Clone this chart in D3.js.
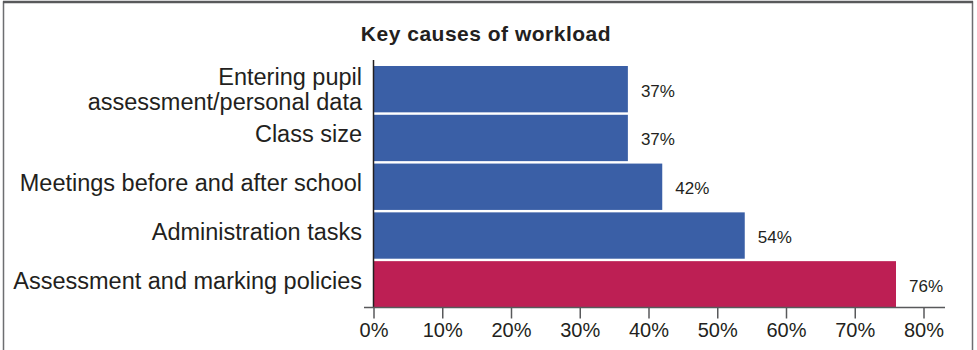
<!DOCTYPE html>
<html>
<head>
<meta charset="utf-8">
<script src="https://cdn.jsdelivr.net/npm/d3@7"></script>
<style>
  body { margin: 0; background: #fff; }
  text { font-family: "Liberation Sans", Arial, sans-serif; fill: #231f20; }
</style>
</head>
<body>
<div id="chart"></div>
<script>
// data
var categories = [
  ["Entering pupil", "assessment/personal data"],
  ["Class size"],
  ["Meetings before and after school"],
  ["Administration tasks"],
  ["Assessment and marking policies"]
];
var values = [37, 37, 42, 54, 76];
var highlighted = [false, false, false, false, true];
var ticks = [0, 10, 20, 30, 40, 50, 60, 70, 80];

var width = 977, height = 350;
var svg = d3.select('#chart').append('svg')
  .attr('width', width)
  .attr('height', height);

// frame
svg.append('path')
  .attr('d', 'M3.5,350 V2 H972.5 V350')
  .attr('fill', 'none')
  .attr('stroke', '#6d6e71')
  .attr('stroke-width', 1.5);
svg.append('line')
  .attr('x1', 3).attr('x2', 973).attr('y1', 2).attr('y2', 2)
  .attr('stroke', '#58595b').attr('stroke-width', 2.5);

svg.append('text')
  .attr('x', 486).attr('y', 41)
  .attr('text-anchor', 'middle')
  .style('font-size', '21px')
  .style('font-weight', 'bold')
  .style('letter-spacing', '0.5px')
  .text('Key causes of workload');

var x = d3.scaleLinear().domain([0, 80]).range([373.5, 923.5]);
var y = d3.scaleBand().domain(d3.range(categories.length)).range([66, 307.5]).paddingInner(0.05);

svg.selectAll('rect.bar')
  .data(values).enter()
  .append('rect')
  .attr('class', 'bar')
  .attr('x', x(0))
  .attr('y', function(d, i) { return y(i); })
  .attr('width', function(d) { return x(d) - x(0); })
  .attr('height', y.bandwidth())
  .attr('fill', function(d, i) { return highlighted[i] ? '#bd1f54' : '#3a5fa6'; });

svg.selectAll('text.val')
  .data(values).enter()
  .append('text')
  .attr('class', 'val')
  .attr('x', function(d) { return x(d) + 13; })
  .attr('y', function(d, i) { return y(i) + y.bandwidth() / 2 + 7.5; })
  .style('font-size', '17px')
  .text(function(d) { return d + '%'; });

var labels = svg.selectAll('text.cat')
  .data(categories).enter()
  .append('text')
  .attr('class', 'cat')
  .attr('text-anchor', 'end')
  .style('font-size', '23.5px')
  .attr('transform', function(d, i) {
    return 'translate(362,' + (y(i) + y.bandwidth() / 2) + ')';
  });
labels.selectAll('tspan')
  .data(function(d) { return d; }).enter()
  .append('tspan')
  .attr('x', 0)
  .attr('y', function(d, j, nodes) { return j * 25 + 4.5 - (nodes.length - 1) * 8.5; })
  .text(function(d) { return d; });

// y axis line
svg.append('line')
  .attr('x1', x(0)).attr('x2', x(0))
  .attr('y1', 60).attr('y2', 308)
  .attr('stroke', '#231f20').attr('stroke-width', 1.5);

// x axis
var xAxis = d3.axisBottom(x)
  .tickValues(ticks)
  .tickSize(11)
  .tickPadding(4)
  .tickFormat(function(d) { return d + '%'; })
  .tickSizeOuter(0);
var gx = svg.append('g')
  .attr('transform', 'translate(0,307.5)')
  .call(xAxis);
gx.select('.domain').remove();
gx.append('line')
  .attr('x1', 364).attr('x2', 945)
  .attr('stroke', '#58595b').attr('stroke-width', 1.5);
gx.selectAll('.tick line').attr('stroke', '#58595b').attr('stroke-width', 1.5);
gx.selectAll('.tick text')
  .style('font-size', '20px')
  .attr('fill', '#231f20')
  .style('font-family', '"Liberation Sans", Arial, sans-serif');
</script>
</body>
</html>
